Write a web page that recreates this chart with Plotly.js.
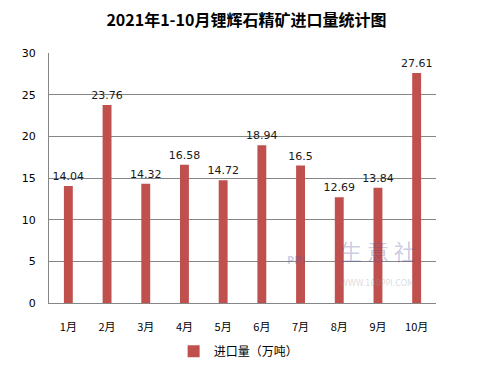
<!DOCTYPE html>
<html><head><meta charset="utf-8">
<script src="https://cdn.plot.ly/plotly-3.0.1.min.js"></script>
<style>html,body{margin:0;padding:0;background:#fff}#chart{width:488px;height:369px}</style>
</head><body><div id="chart"></div>
<script>
const months = ['1月','2月','3月','4月','5月','6月','7月','8月','9月','10月'];
const imports = [14.04, 23.76, 14.32, 16.58, 14.72, 18.94, 16.5, 12.69, 13.84, 27.61];
const labels = ['14.04','23.76','14.32','16.58','14.72','18.94','16.5','12.69','13.84','27.61'];
const seriesName = '进口量（万吨）';
const yTicks = [0,5,10,15,20,25,30];

const font = "'Noto Sans CJK SC', 'DejaVu Sans', sans-serif";
Plotly.newPlot('chart', [{
  type: 'bar', x: months, y: imports, name: seriesName,
  marker: {color: '#C0504D'}, width: 0.23,
  text: labels, textposition: 'outside', cliponaxis: false, constraintext: 'none',
  textfont: {family: "'DejaVu Sans', sans-serif", size: 11, color: '#1a1a1a'}
}], {
  width: 488, height: 369,
  margin: {l: 49, r: 52, t: 53, b: 66},
  paper_bgcolor: '#fff', plot_bgcolor: '#fff',
  title: {text: '<b>2021年1-10月锂辉石精矿进口量统计图</b>', x: 0.505, xanchor: 'center', y: 0.945, yanchor: 'middle',
          font: {family: font, size: 16, color: '#000'}},
  xaxis: {type: 'category', showline: true, linecolor: '#868686', linewidth: 1, ticks: '', showgrid: false,
          tickfont: {family: font, size: 11, color: '#000'}, ticklabelstandoff: 14, automargin: false},
  yaxis: {range: [0, 30], tickvals: yTicks, showgrid: true, gridcolor: '#868686', gridwidth: 1,
          showline: true, linecolor: '#868686', ticks: '', zeroline: false, automargin: false,
          tickfont: {family: "'DejaVu Sans', sans-serif", size: 11, color: '#000'}, ticklabelstandoff: 10},
  showlegend: true,
  legend: {orientation: 'h', x: 0.49, xanchor: 'center', yref: 'container', y: 0.048, yanchor: 'middle', bgcolor: 'rgba(0,0,0,0)',
           font: {family: font, size: 12, color: '#000'}, itemwidth: 30},
  annotations: [
    {xref: 'paper', yref: 'paper', x: 0.61, xanchor: 'left', y: 0.14, text: '<b>PPI</b>', showarrow: false,
     font: {family: "'DejaVu Sans', sans-serif", size: 10, color: 'rgba(90,90,170,0.3)'}},
    {xref: 'paper', yref: 'paper', x: 0.747, xanchor: 'left', y: 0.14, text: '生 意 社', showarrow: false,
     font: {family: font, size: 22, color: 'rgba(80,80,160,0.3)'}},
    {xref: 'paper', yref: 'paper', x: 0.747, xanchor: 'left', y: 0.052, text: 'WWW.100PPI.COM', showarrow: false,
     font: {family: "'DejaVu Sans', sans-serif", size: 8, color: 'rgba(150,150,150,0.35)'}}
  ],
  bargap: 0.77
}, {displayModeBar: false, staticPlot: true});
</script></body></html>
